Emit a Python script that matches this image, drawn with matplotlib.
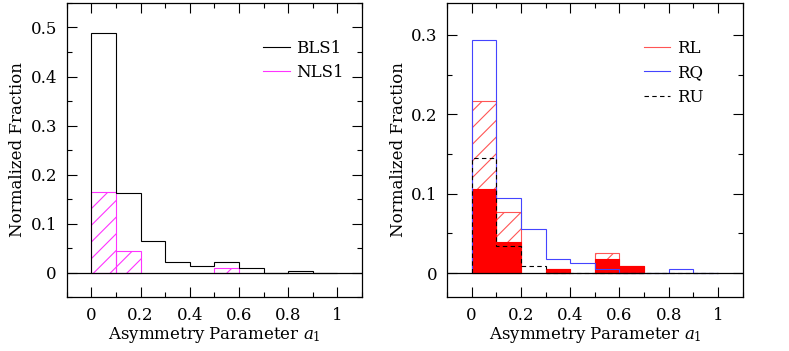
import matplotlib
matplotlib.use("Agg")
import matplotlib.pyplot as plt
import numpy as np
from matplotlib.ticker import MultipleLocator, FuncFormatter
from matplotlib.lines import Line2D

plt.rcParams['font.family'] = ['DejaVu Serif']
plt.rcParams['mathtext.fontset'] = 'dejavuserif'
plt.rcParams['hatch.linewidth'] = 0.8

edges = [0.0, 0.1, 0.2, 0.3, 0.4, 0.5, 0.6, 0.7, 0.8, 0.9, 1.0]

# Left panel
bls1 = [0.489, 0.162, 0.064, 0.0216, 0.0128, 0.021, 0.009, 0.0, 0.004, 0.0]
nls1 = [0.165, 0.043, 0.0, 0.0, 0.0, 0.010, 0.0, 0.0, 0.0, 0.0]

# Right panel
rl_all = [0.2167, 0.077, 0.0, 0.005, 0.0, 0.026, 0.009, 0.0, 0.0, 0.0]
rl_sub = [0.106, 0.0387, 0.0, 0.005, 0.0, 0.0175, 0.009, 0.0, 0.0, 0.0]
rq = [0.293, 0.094, 0.0554, 0.0175, 0.0129, 0.005, 0.0, 0.0, 0.005, 0.0]
ru = [0.145, 0.034, 0.009, 0.0, 0.0, 0.0, 0.0, 0.0, 0.0, 0.0]

W, H = 789, 351
fig = plt.figure(figsize=(W/100, H/100), dpi=100)
ax1 = fig.add_axes([66.7/W, 1-297/H, 295.3/W, 294/H])
ax2 = fig.add_axes([447/W, 1-297/H, 295.7/W, 294/H])

left = np.array(edges[:-1])
width = np.diff(edges)

FS = 12

def style(ax, ylim):
    ax.set_xlim(-0.1, 1.1)
    ax.set_ylim(*ylim)
    ax.xaxis.set_major_locator(MultipleLocator(0.2))
    ax.xaxis.set_minor_locator(MultipleLocator(0.1))
    ax.yaxis.set_major_locator(MultipleLocator(0.1))
    ax.yaxis.set_minor_locator(MultipleLocator(0.05))
    fmt = FuncFormatter(lambda v, p: ('%g' % round(v, 3)))
    ax.xaxis.set_major_formatter(fmt)
    ax.yaxis.set_major_formatter(fmt)
    ax.tick_params(which='both', direction='in', top=True, right=True, width=0.8)
    ax.tick_params(which='major', length=7, labelsize=FS, pad=7)
    ax.tick_params(which='minor', length=3.5)
    for s in ax.spines.values():
        s.set_linewidth(0.9)
    ax.axhline(0, color='black', lw=0.9, zorder=5)
    ax.set_xlabel('Asymmetry Parameter $a_1$', fontsize=FS, labelpad=1)
    ax.set_ylabel('Normalized Fraction', fontsize=FS, labelpad=3)

leg_kw = dict(loc='upper left', bbox_to_anchor=(0.665, 0.875), frameon=False,
              fontsize=FS, handlelength=1.6, handletextpad=0.4, labelspacing=0.45,
              borderpad=0, borderaxespad=0)

# Left
nmask = np.array(nls1) > 0
ax1.bar(left[nmask], np.array(nls1)[nmask], width=width[nmask], align='edge',
        fill=False, edgecolor='#ff33ff', hatch='//', lw=0.8)
ax1.stairs(bls1, edges, color='black', lw=0.8)
style(ax1, (-0.05, 0.55))
h1 = [Line2D([], [], color='black', lw=0.8), Line2D([], [], color='#ff33ff', lw=0.8)]
ax1.legend(h1, ['BLS1', 'NLS1'], **leg_kw)

# Right
amask = np.array(rl_all) > 0
ax2.bar(left[amask], np.array(rl_all)[amask], width=width[amask], align='edge',
        fill=False, edgecolor='#ff5555', hatch='//', lw=0.8)
smask = np.array(rl_sub) > 0
ax2.bar(left[smask], np.array(rl_sub)[smask], width=width[smask], align='edge',
        color='red', edgecolor='red', lw=0.8)
ax2.stairs(rq, edges, color='#4444ff', lw=0.8)
ax2.stairs(ru, edges, color='black', lw=0.8, linestyle=(0, (4, 3)))
style(ax2, (-0.03, 0.34))
h2 = [Line2D([], [], color='#ff5555', lw=0.8), Line2D([], [], color='#4444ff', lw=0.8),
      Line2D([], [], color='black', lw=0.8, linestyle=(0, (4, 3)))]
ax2.legend(h2, ['RL', 'RQ', 'RU'], **leg_kw)

fig.savefig('out.png', dpi=100)
